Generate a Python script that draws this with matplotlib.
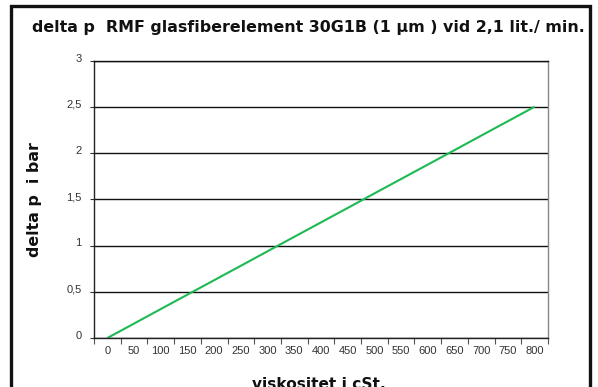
import matplotlib
matplotlib.use("Agg")
import matplotlib.pyplot as plt
from matplotlib.patches import Rectangle
from matplotlib.transforms import ScaledTranslation

# Viscosity categories (cSt) and pressure drop (bar)
viscosity = [0, 50, 100, 150, 200, 250, 300, 350, 400, 450, 500, 550, 600, 650, 700, 750, 800]
delta_p = [0.0, 0.156, 0.313, 0.469, 0.625, 0.781, 0.938, 1.094, 1.25,
           1.406, 1.563, 1.719, 1.875, 2.031, 2.188, 2.344, 2.5]
y_ticks = [0, 0.5, 1, 1.5, 2, 2.5, 3]
y_tick_labels = ["0", "0,5", "1", "1,5", "2", "2,5", "3"]

title = "delta p  RMF glasfiberelement 30G1B (1 µm ) vid 2,1 lit./ min."
x_label = "viskositet i cSt."
y_label = "delta p  i bar"

W, H = 598, 387
fig = plt.figure(figsize=(W / 100, H / 100), dpi=100)
fig.patch.set_facecolor("white")

# outer frame
fig.patches.append(Rectangle((11 / W, -0.05), (590 - 11) / W, 1.05 - 6 / H,
                             transform=fig.transFigure, fill=False,
                             edgecolor="#111111", linewidth=2.4))

ax = fig.add_axes([94 / W, 1 - 338 / H, (548 - 94) / W, (338 - 60.5) / H])

pos = list(range(len(viscosity)))
ax.plot(pos, delta_p, color="#1db954", linewidth=1.5, solid_capstyle="butt")

ax.set_xlim(-0.5, len(viscosity) - 0.5)
ax.set_ylim(0, 3)

tick_font = ["Liberation Sans Narrow", "Liberation Sans", "DejaVu Sans"]
ax.set_yticks(y_ticks)
ax.set_yticklabels(y_tick_labels, family=tick_font, fontsize=8, color="#333333")
ax.set_xticks([p - 0.5 for p in pos] + [len(pos) - 0.5])
ax.set_xticklabels([])
ax.set_xticks(pos, minor=True)
ax.set_xticklabels([str(v) for v in viscosity], minor=True,
                   family=tick_font, fontsize=8, color="#333333")
ax.tick_params(axis="x", which="major", direction="out", length=4, width=0.8, color="#555555")
ax.tick_params(axis="x", which="minor", length=0, pad=6)
ax.tick_params(axis="y", direction="out", length=3, width=0.8, color="#333333", pad=6)

# y tick labels sit slightly above their gridlines
shift = ScaledTranslation(0, 3 / 100, fig.dpi_scale_trans)
for lbl in ax.get_yticklabels():
    lbl.set_transform(lbl.get_transform() + shift)

ax.grid(axis="y", color="#111111", linewidth=1.0)
ax.set_axisbelow(True)
for side in ("left", "bottom"):
    ax.spines[side].set_color("#222222")
    ax.spines[side].set_linewidth(1.0)
ax.spines["right"].set_color("#888888")
ax.spines["right"].set_linewidth(1.0)
ax.spines["top"].set_color("#111111")
ax.spines["top"].set_linewidth(1.0)

fig.text(308.5 / W, 1 - 32 / H, title, ha="center", va="baseline",
         fontsize=11.4, fontweight="bold", family="DejaVu Sans", color="#111111")
fig.text(318.5 / W, 1 - 389 / H, x_label, ha="center", va="baseline",
         fontsize=11.1, fontweight="bold", family="DejaVu Sans", color="#111111")
fig.text(34 / W, 1 - 200 / H, y_label, ha="center", va="center", rotation=90,
         fontsize=11.4, fontweight="bold", family="DejaVu Sans", color="#111111")

fig.savefig("out.png", dpi=100)
